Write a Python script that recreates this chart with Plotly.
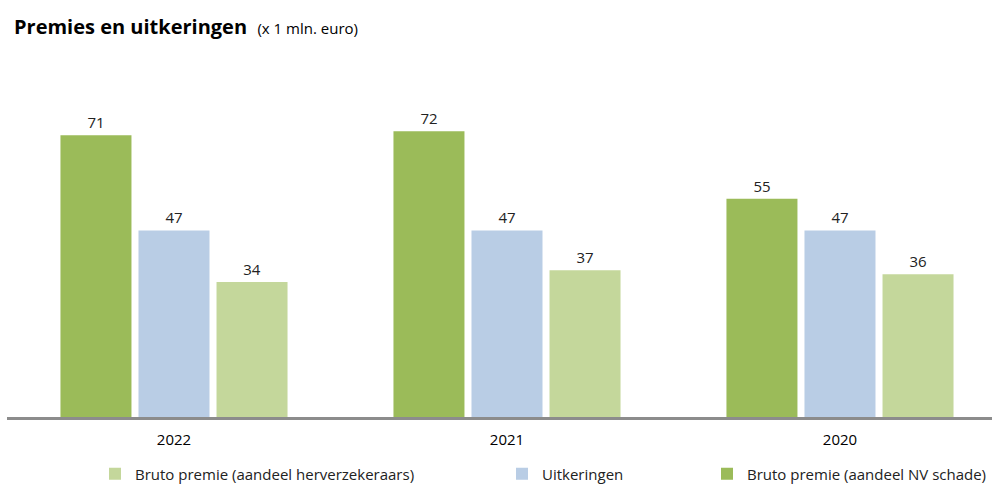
import plotly.graph_objects as go

years = ["2022", "2021", "2020"]
nv_schade = [71, 72, 55]
uitkeringen = [47, 47, 47]
herverzekeraars = [34, 37, 36]

names = ["Bruto premie (aandeel NV schade)", "Uitkeringen", "Bruto premie (aandeel herverzekeraars)"]
colors = ["#9BBB59", "#B9CDE5", "#C4D79B"]
series = [nv_schade, uitkeringen, herverzekeraars]
legends = ["legend3", "legend2", "legend"]

W, H = 992, 484
FONT = "Open Sans"

fig = go.Figure()
for name, col, vals, lg in zip(names, colors, series, legends):
    fig.add_trace(go.Bar(
        x=years, y=vals, name=name, legend=lg,
        marker=dict(color=col, line=dict(width=0)),
        text=[str(v) for v in vals], textposition="outside",
        textfont=dict(size=15, color="#222222", family=FONT),
        cliponaxis=False,
    ))

def leg(xpx):
    return dict(x=xpx / W, xref="container", y=1 - 474 / H, yref="container",
                xanchor="left", yanchor="middle", orientation="h",
                font=dict(size=15, color="#222222", family=FONT),
                bgcolor="rgba(0,0,0,0)", itemwidth=30)

fig.update_layout(
    width=W, height=H,
    margin=dict(l=7, r=0, t=40, b=67),
    paper_bgcolor="white", plot_bgcolor="white",
    barmode="group", bargap=0.297, bargroupgap=0.09,
    showlegend=True,
    legend=leg(95), legend2=leg(502), legend3=leg(707),
    title=dict(
        text="<b>Premies en uitkeringen</b>  <span style='font-size:15px;font-weight:normal'>(x 1 mln. euro)</span>",
        x=14 / W, xref="container", xanchor="left",
        y=1 - 27 / H, yref="container", yanchor="middle",
        font=dict(size=20, color="#000000", family=FONT),
    ),
    xaxis=dict(
        type="category", range=[-0.5015, 2.4565],
        showline=True, linecolor="#8C8C8C", linewidth=3,
        ticks="", showgrid=False, zeroline=False, ticklabelstandoff=7,
        tickfont=dict(size=15, color="#000000", family=FONT),
    ),
    yaxis=dict(range=[0, 95], visible=False, showgrid=False, zeroline=False),
)

fig.write_html("out.html", config={"displayModeBar": False},
               post_script="document.body.style.margin='0';")
